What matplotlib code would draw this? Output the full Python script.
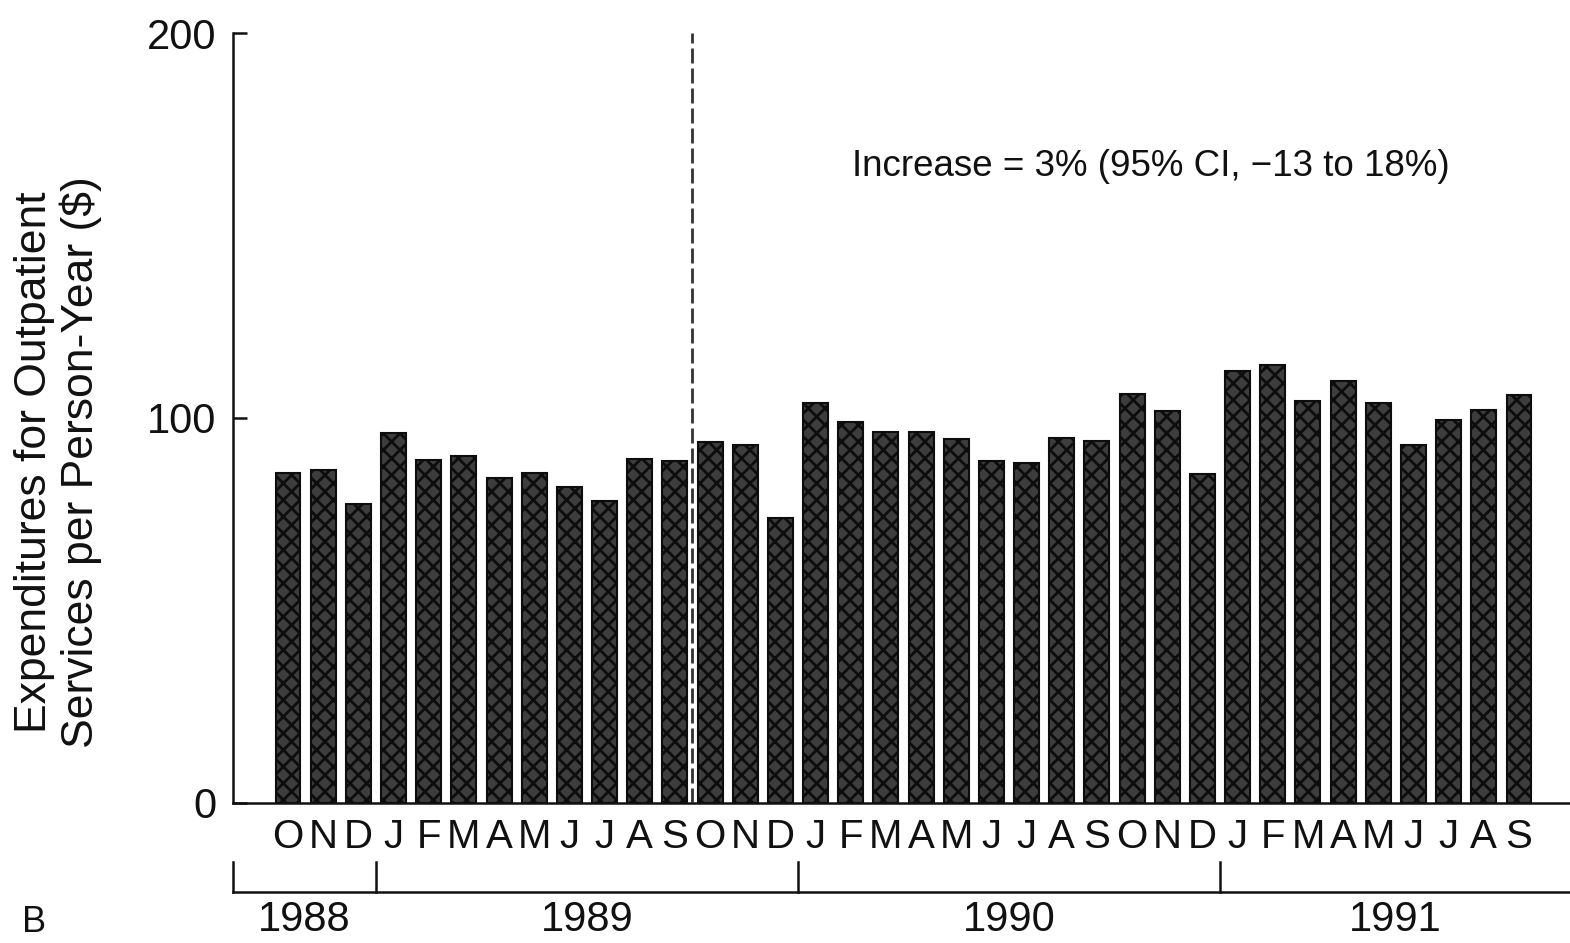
import matplotlib
matplotlib.use("Agg")
import matplotlib.pyplot as plt
import matplotlib.transforms as mtransforms
import numpy as np

plt.rcParams['font.family'] = ['Liberation Sans', 'DejaVu Sans']
plt.rcParams['hatch.linewidth'] = 2.0
plt.rcParams['lines.scale_dashes'] = False

# Monthly outpatient expenditures, Oct 1988 - Sep 1991
months = ["O", "N", "D",
          "J", "F", "M", "A", "M", "J", "J", "A", "S", "O", "N", "D",
          "J", "F", "M", "A", "M", "J", "J", "A", "S", "O", "N", "D",
          "J", "F", "M", "A", "M", "J", "J", "A", "S"]
expenditures = [85.6, 86.4, 77.6,
                96.0, 89.0, 90.0, 84.5, 85.8, 82.2, 78.5, 89.3, 88.7, 93.7, 92.9, 74.1,
                104.0, 98.9, 96.3, 96.3, 94.6, 88.7, 88.3, 94.7, 94.1, 106.2, 101.7, 85.4,
                112.2, 113.8, 104.5, 109.5, 103.8, 93.1, 99.4, 102.1, 106.0]
years = ["1988", "1989", "1990", "1991"]
year_start_index = [0, 3, 15, 27]
policy_index = 11.5
y_ticks = [0, 100, 200]
annotation = "Increase = 3% (95% CI, \u221213 to 18%)"

fig = plt.figure(figsize=(15.7, 9.43), dpi=100)
ax_bottom = 0.1485
ax_top = 0.965
ax = fig.add_axes([0.1484, ax_bottom, 1.0 - 0.1484, ax_top - ax_bottom])

x = np.arange(len(expenditures))
ax.bar(x, expenditures, width=0.71, color="#3d3d3d", edgecolor="#0d0d0d",
       linewidth=1.5, hatch="xx", zorder=2)

ax.set_xlim(-1.564, 36.45)
ax.set_ylim(0, 200)

# intervention marker
ax.axvline(policy_index, ymin=0, ymax=1.0, color="#333333", linewidth=2.0,
           dashes=(10.8, 3.6), zorder=3)

for side in ("top", "right"):
    ax.spines[side].set_visible(False)
for side in ("left", "bottom"):
    ax.spines[side].set_linewidth(1.8)
    ax.spines[side].set_color("#111111")

ax.set_yticks(y_ticks)
ax.set_yticklabels([str(t) for t in y_ticks], fontsize=30)
ax.tick_params(axis="y", direction="in", length=10, width=1.8, pad=12, colors="#111111")
ax.set_xticks(x)
ax.set_xticklabels(months, fontsize=29)
ax.tick_params(axis="x", length=0, pad=11, colors="#111111")

trans = mtransforms.blended_transform_factory(ax.transData, ax.transAxes)
ax.text(16.04, 0.826, annotation, transform=trans,
        fontsize=26.5, ha="left", va="center", color="#111111")

# year bracket below the month labels
xmin, xmax = ax.get_xlim()
bracket_y = -0.1155
tick_top = -0.0765
ax.plot([xmin, xmax], [bracket_y, bracket_y], transform=trans, color="#111111",
        linewidth=1.8, clip_on=False)
boundaries = [xmin] + [s - 0.5 for s in year_start_index[1:]] + [xmax]
for b in boundaries[:-1]:
    ax.plot([b, b], [bracket_y, tick_top], transform=trans, color="#111111",
            linewidth=1.8, clip_on=False)
for i, yr in enumerate(years):
    cx = (boundaries[i] + boundaries[i + 1]) / 2
    ax.text(cx, -0.152, yr, transform=trans, fontsize=30, ha="center",
            va="center", color="#111111", clip_on=False)

fig.text(58 / 1570, 1 - 462 / 943,
         "Expenditures for Outpatient\nServices per Person-Year ($)",
         rotation=90, ha="center", va="center", fontsize=32,
         multialignment="center", linespacing=1.15, color="#111111")
fig.text(34 / 1570, 1 - 922 / 943, "B", fontsize=26, ha="center", va="center",
         color="#111111")

fig.savefig("out.png", dpi=100)
